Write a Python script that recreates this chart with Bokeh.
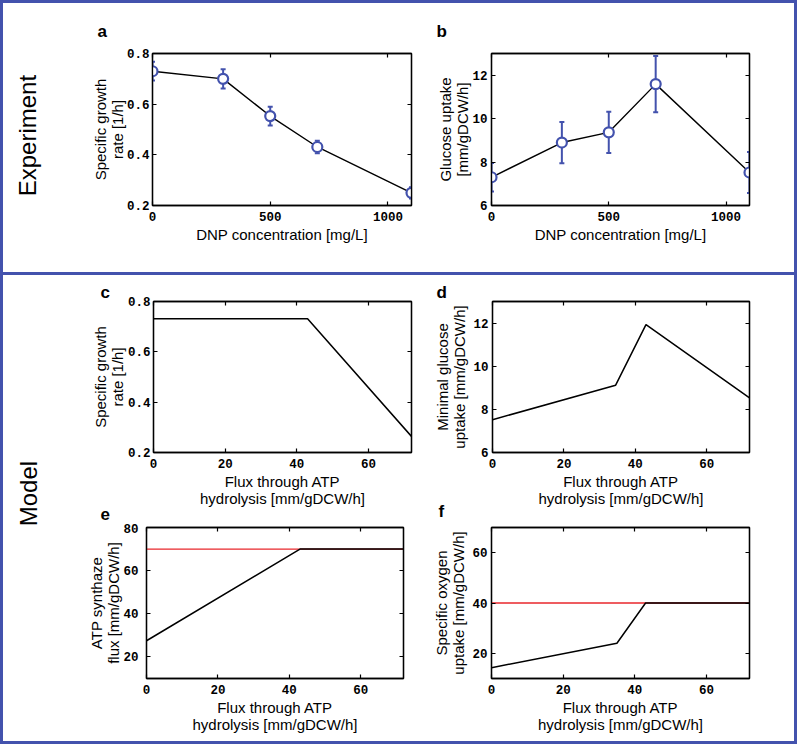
from bokeh.plotting import figure
from bokeh.models import (Range1d, FixedTicker, LinearAxis, Label, Whisker,
                          ColumnDataSource, TeeHead, Title)
from bokeh.layouts import row, column
from bokeh.embed import file_html
from bokeh.resources import INLINE

# ---------------- data ----------------
dnp_conc = [0, 300, 500, 700, 1100]
growth_exp = [0.730, 0.700, 0.553, 0.431, 0.250]
growth_err = [0.037, 0.038, 0.037, 0.025, 0.022]
glucose_exp = [7.30, 8.90, 9.37, 11.59, 7.52]
glucose_err = [0.66, 0.95, 0.95, 1.29, 0.94]

flux_c = [0, 43, 72]
growth_model = [0.731, 0.731, 0.264]
flux_d = [0, 34.5, 43, 72]
glucose_model = [7.52, 9.12, 11.93, 8.53]
flux_e = [0, 43, 72]
atp_synthase = [27.5, 70, 70]
atp_synthase_max = 70
flux_f = [0, 35, 43, 72]
oxygen_model = [14.3, 24.0, 40, 40]
oxygen_max = 40
flux_range = [0, 72]
dnp_range = [0, 1100]

dnp_ticks = [0, 500, 1000]
flux_ticks = [0, 20, 40, 60]
growth_ticks = [0.2, 0.4, 0.6, 0.8]
glucose_ticks = [6, 8, 10, 12]
atp_ticks = [20, 40, 60, 80]
oxygen_ticks = [20, 40, 60]

# ---------------- styles ----------------
BLUE = "#4352ad"
RED = "#e8262b"
LABEL_FONT = "Liberation Sans"
TICK_FONT = "Liberation Mono"
FLUX_LABEL = "Flux through ATP\nhydrolysis [mm/gDCW/h]"


def make_panel(x_rng, y_rng, xticks, yticks, xlabel, ylabel, fw, fh,
               bl, br, bt, bb, y_tick_standoff, y_label_standoff):
    p = figure(width=bl + fw + br, height=bt + fh + bb,
               x_range=Range1d(*x_rng), y_range=Range1d(*y_rng),
               output_backend="svg", toolbar_location=None,
               min_border_left=bl, min_border_right=br,
               min_border_top=bt, min_border_bottom=bb)
    p.grid.visible = False
    p.outline_line_color = "black"
    p.outline_line_width = 1.3
    p.outline_line_alpha = 1.0
    for ax, ticks in ((p.xaxis[0], xticks), (p.yaxis[0], yticks)):
        ax.ticker = FixedTicker(ticks=ticks)
        ax.minor_tick_line_color = None
        ax.major_tick_in = 4
        ax.major_tick_out = 0
        ax.major_tick_line_width = 1.2
        ax.axis_line_width = 1.3
        ax.major_label_text_font = TICK_FONT
        ax.major_label_text_font_style = "bold"
        ax.major_label_text_font_size = "12.5px"
        ax.major_label_text_color = "black"
        ax.axis_label_text_font = LABEL_FONT
        ax.axis_label_text_font_style = "normal"
        ax.axis_label_text_font_size = "15px"
        ax.axis_label_text_color = "black"
        ax.axis_label_text_line_height = 1.0
    p.xaxis[0].axis_label = xlabel
    p.yaxis[0].axis_label = ylabel
    p.xaxis[0].major_label_standoff = 6
    p.xaxis[0].axis_label_standoff = 2
    p.yaxis[0].major_label_standoff = y_tick_standoff
    p.yaxis[0].axis_label_standoff = y_label_standoff
    for loc, ticks in (("above", xticks), ("right", yticks)):
        ax = LinearAxis(ticker=FixedTicker(ticks=ticks),
                        major_label_text_color=None,
                        major_label_text_font_size="1px",
                        major_label_standoff=0,
                        major_tick_in=4, major_tick_out=0,
                        major_tick_line_width=1.2,
                        minor_tick_line_color=None,
                        axis_line_width=1.3)
        p.add_layout(ax, loc)
    return p


def letter(p, text, loc, offset, standoff):
    t = Title(text=text, align="left", offset=offset, standoff=standoff,
              text_font="Liberation Sans", text_font_style="bold",
              text_font_size="17px", text_color="black")
    if loc == "above":
        p.title = t
    else:
        p.add_layout(t, loc)


def experiment_series(p, xs, ys, errs):
    src = ColumnDataSource(dict(x=xs, y=ys,
                                upper=[v + e for v, e in zip(ys, errs)],
                                lower=[v - e for v, e in zip(ys, errs)]))
    p.line("x", "y", source=src, line_color="black", line_width=1.4)
    p.add_layout(Whisker(base="x", upper="upper", lower="lower", source=src,
                         line_color=BLUE, line_width=2,
                         upper_head=TeeHead(size=5, line_color=BLUE, line_width=2),
                         lower_head=TeeHead(size=5, line_color=BLUE, line_width=2)))
    p.scatter("x", "y", source=src, marker="circle", size=10,
              line_color=BLUE, line_width=2.2, fill_color="white")


def side_label(text, h, fx, fy):
    f = figure(width=60, height=h, x_axis_type=None, y_axis_type=None,
               output_backend="svg", toolbar_location=None, min_border=0,
               x_range=Range1d(0, 1), y_range=Range1d(0, 1))
    f.grid.visible = False
    f.outline_line_color = None
    f.add_layout(Label(x=fx, y=fy, text=text, angle=90, angle_units="deg",
                       text_font="Liberation Sans", text_font_size="24px",
                       text_align="center", text_baseline="middle",
                       text_color="black"))
    return f


# ---------------- experiment section ----------------
exp_fig = side_label("Experiment", 269, 0.40, 0.509)

pa = make_panel(dnp_range, (0.2, 0.8), dnp_ticks, growth_ticks,
                "DNP concentration [mg/L]", "Specific growth\nrate [1/h]",
                259, 152, 89, 12, 50, 67, 3, -2)
experiment_series(pa, dnp_conc, growth_exp, growth_err)
letter(pa, "a", "above", -55, 25)

pb = make_panel(dnp_range, (6, 13), dnp_ticks, glucose_ticks,
                "DNP concentration [mg/L]", "Glucose uptake\n[mm/gDCW/h]",
                258, 152, 68, 45, 50, 67, 4, -2)
experiment_series(pb, dnp_conc, glucose_exp, glucose_err)
letter(pb, "b", "above", -55, 25)

# ---------------- model section ----------------
model_fig = side_label("Model", 466, 0.417, 0.532)

pc = make_panel(flux_range, (0.2, 0.8), flux_ticks, growth_ticks,
                FLUX_LABEL, "Specific growth\nrate [1/h]",
                258, 151, 90, 12, 26, 71, 3, -1)
pc.line(flux_c, growth_model, line_color="black", line_width=1.5)
letter(pc, "c", "above", -53, 0)
letter(pc, "e", "below", -53, -20)

pd_ = make_panel(flux_range, (6, 13), flux_ticks, glucose_ticks,
                 FLUX_LABEL, "Minimal glucose\nuptake [mm/gDCW/h]",
                 257, 151, 69, 45, 26, 71, 4, 2)
pd_.line(flux_d, glucose_model, line_color="black", line_width=1.5)
letter(pd_, "d", "above", -56, 0)
letter(pd_, "f", "below", -54, -20)

pe = make_panel(flux_range, (10, 80), flux_ticks, atp_ticks,
                FLUX_LABEL, "ATP synthaze\nflux [mm/gDCW/h]",
                257, 151, 83, 12, 4, 63, 8, -2)
pe.line(flux_range, [atp_synthase_max] * 2, line_color=RED, line_width=1.3)
pe.line(flux_e, atp_synthase, line_color="black", line_width=1.5)

pf = make_panel(flux_range, (10, 70), flux_ticks, oxygen_ticks,
                FLUX_LABEL, "Specific oxygen\nuptake [mm/gDCW/h]",
                258, 151, 76, 45, 4, 63, 4, 2)
pf.line(flux_range, [oxygen_max] * 2, line_color=RED, line_width=1.3)
pf.line(flux_f, oxygen_model, line_color="black", line_width=1.5)

top = row(column(exp_fig), pa, pb)
bottom = row(model_fig, column(row(pc, pd_), row(pe, pf)),
             styles={"border-top": f"3px solid {BLUE}"})
layout = column(top, bottom, styles={"border": f"3px solid {BLUE}"})

open("out.html", "w").write(file_html(layout, INLINE))
